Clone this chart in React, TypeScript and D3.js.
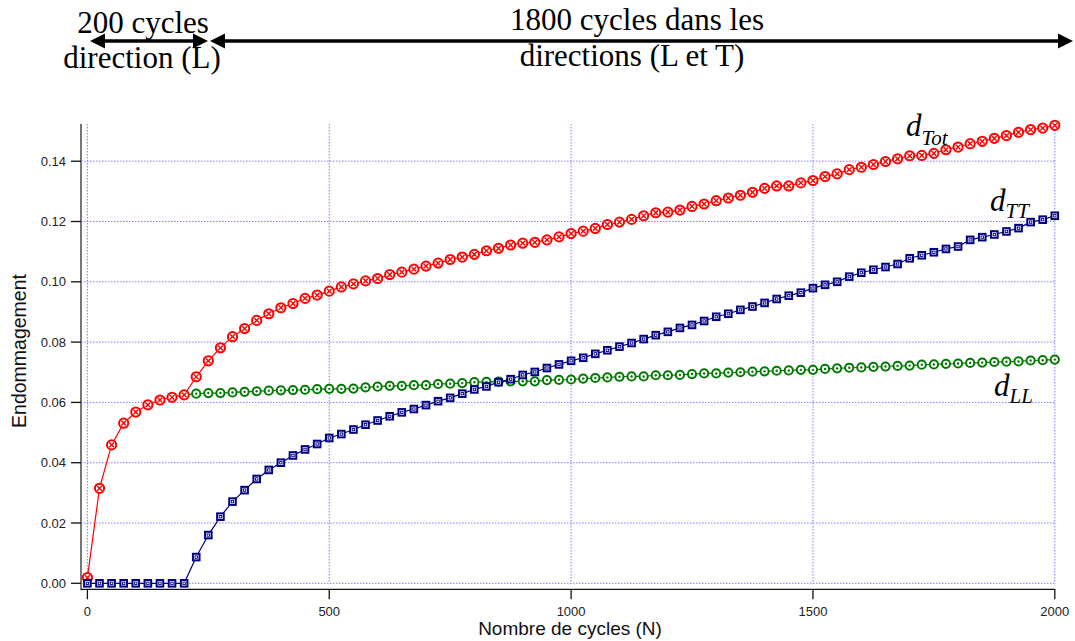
import React from "react";
import * as d3 from "d3";

const cycles = [
  0, 25, 50, 75, 100, 125, 150, 175, 200, 225, 250, 275, 300, 325, 350, 375, 400, 425, 450, 475,
  500, 525, 550, 575, 600, 625, 650, 675, 700, 725, 750, 775, 800, 825, 850, 875, 900, 925, 950, 975,
  1000, 1025, 1050, 1075, 1100, 1125, 1150, 1175, 1200, 1225, 1250, 1275, 1300, 1325, 1350, 1375, 1400, 1425, 1450, 1475,
  1500, 1525, 1550, 1575, 1600, 1625, 1650, 1675, 1700, 1725, 1750, 1775, 1800, 1825, 1850, 1875, 1900, 1925, 1950, 1975,
  2000,
];

const dTot = [
  0.0019, 0.0315, 0.0459, 0.0531, 0.0568, 0.0592, 0.0608, 0.0617, 0.0625, 0.0685, 0.0738, 0.0781, 0.0818, 0.0845, 0.0872, 0.0894, 0.0914, 0.0928, 0.0945, 0.0956,
  0.0969, 0.0983, 0.0993, 0.1003, 0.1011, 0.1024, 0.1032, 0.1042, 0.1052, 0.1062, 0.1074, 0.1082, 0.1091, 0.1103, 0.1111, 0.1122, 0.1128, 0.1131, 0.1139, 0.1149,
  0.1160, 0.1168, 0.1177, 0.1190, 0.1198, 0.1207, 0.1219, 0.1229, 0.1231, 0.1238, 0.1250, 0.1258, 0.1269, 0.1278, 0.1287, 0.1297, 0.1310, 0.1318, 0.1318, 0.1328,
  0.1336, 0.1349, 0.1358, 0.1372, 0.1380, 0.1389, 0.1399, 0.1408, 0.1418, 0.1419, 0.1426, 0.1438, 0.1447, 0.1458, 0.1466, 0.1476, 0.1485, 0.1496, 0.1505, 0.1510,
  0.1519,
];

const dTT = [
  0, 0, 0, 0, 0, 0, 0, 0, 0, 0.0087, 0.0160, 0.0221, 0.0271, 0.0309, 0.0346, 0.0376, 0.0400, 0.0424, 0.0444, 0.0462,
  0.0482, 0.0495, 0.0510, 0.0526, 0.0540, 0.0554, 0.0567, 0.0578, 0.0591, 0.0604, 0.0615, 0.0629, 0.0643, 0.0653, 0.0667, 0.0677, 0.0691, 0.0701, 0.0714, 0.0726,
  0.0738, 0.0748, 0.0761, 0.0773, 0.0785, 0.0797, 0.0810, 0.0823, 0.0834, 0.0847, 0.0857, 0.0870, 0.0884, 0.0894, 0.0907, 0.0918, 0.0930, 0.0943, 0.0954, 0.0964,
  0.0979, 0.0990, 0.1000, 0.1017, 0.1030, 0.1040, 0.1049, 0.1059, 0.1078, 0.1088, 0.1098, 0.1109, 0.1117, 0.1139, 0.1148, 0.1157, 0.1167, 0.1178, 0.1198, 0.1206,
  0.1219,
];

const dLL: (number | null)[] = [
  null, null, null, null, null, null, null, null, 0.0625, 0.0629, 0.0631, 0.0631, 0.0633, 0.0635, 0.0637, 0.0639, 0.0640, 0.0641, 0.0642, 0.0644,
  0.0645, 0.0645, 0.0646, 0.0650, 0.0652, 0.0655, 0.0655, 0.0657, 0.0657, 0.0661, 0.0662, 0.0664, 0.0667, 0.0668, 0.0669, 0.0670, 0.0670, 0.0670, 0.0674, 0.0675,
  0.0676, 0.0679, 0.0681, 0.0683, 0.0685, 0.0686, 0.0686, 0.0690, 0.0690, 0.0691, 0.0694, 0.0696, 0.0696, 0.0699, 0.0700, 0.0702, 0.0703, 0.0705, 0.0706, 0.0708,
  0.0708, 0.0711, 0.0713, 0.0715, 0.0716, 0.0718, 0.0719, 0.0721, 0.0722, 0.0725, 0.0726, 0.0728, 0.0729, 0.0731, 0.0732, 0.0734, 0.0735, 0.0736, 0.0739, 0.0740,
  0.0742,
];

const xTicks = [0, 500, 1000, 1500, 2000];
const yTicks = [0, 0.02, 0.04, 0.06, 0.08, 0.1, 0.12, 0.14];

const RED = "#ff0000";
const NAVY = "#000080";
const GREEN = "#007a00";
const GRID = "#7f7fff";

export default function App() {
  const x = d3.scaleLinear().domain([0, 2000]).range([87.4, 1054.8]);
  const y = d3.scaleLinear().domain([0, 0.14]).range([583.3, 161.2]);
  const plotTop = 124;
  const axisLeft = 81;
  const axisBottom = 589.3;

  const mk = (vals: (number | null)[]) =>
    cycles.map((c, i) => ({ c, v: vals[i] })).filter((p) => p.v !== null) as { c: number; v: number }[];
  const red = mk(dTot);
  const blue = mk(dTT);
  const green = mk(dLL);

  const line = d3
    .line<{ c: number; v: number }>()
    .x((d) => x(d.c))
    .y((d) => y(d.v));

  const fmt = d3.format(".2f");
  const serif = "'Liberation Serif', 'Times New Roman', serif";
  const sans = "'Liberation Sans', Arial, sans-serif";

  const arrowY = 41;
  const head = (tipX: number, dir: number) => {
    const L = 15;
    const H = 7.5;
    return `M${tipX},${arrowY} L${tipX - dir * L},${arrowY - H} L${tipX - dir * L},${arrowY + H} Z`;
  };

  return (
    <svg
      width={1075}
      height={641}
      style={{ position: "absolute", left: 0, top: 0, background: "#fff" }}
    >
      {/* grid */}
      {yTicks.map((t) => (
        <line
          key={"gy" + t}
          x1={axisLeft}
          x2={x(2000)}
          y1={y(t)}
          y2={y(t)}
          stroke={GRID}
          strokeWidth={1}
          strokeDasharray="1.5,1.5"
        />
      ))}
      {xTicks.map((t) => (
        <line
          key={"gx" + t}
          x1={x(t)}
          x2={x(t)}
          y1={plotTop}
          y2={y(0)}
          stroke={GRID}
          strokeWidth={1}
          strokeDasharray="1.5,1.5"
        />
      ))}

      {/* axes */}
      <line x1={axisLeft} x2={axisLeft} y1={plotTop} y2={axisBottom + 1} stroke="#777" strokeWidth={2} />
      <line x1={axisLeft} x2={x(2000) + 0.5} y1={axisBottom} y2={axisBottom} stroke="#111" strokeWidth={1.3} />
      {yTicks.map((t) => (
        <g key={"ty" + t}>
          <line x1={axisLeft - 10} x2={axisLeft} y1={y(t)} y2={y(t)} stroke="#111" strokeWidth={1.3} />
          <text
            x={66}
            y={y(t)}
            dy="0.35em"
            textAnchor="end"
            fontFamily={sans}
            fontSize={13}
            fill="#222"
          >
            {fmt(t)}
          </text>
        </g>
      ))}
      {xTicks.map((t) => (
        <g key={"tx" + t}>
          <line x1={x(t)} x2={x(t)} y1={axisBottom} y2={axisBottom + 10} stroke="#111" strokeWidth={1.3} />
          <text x={x(t)} y={616} textAnchor="middle" fontFamily={sans} fontSize={13} fill="#222">
            {t}
          </text>
        </g>
      ))}
      <text
        transform="translate(26,351) rotate(-90)"
        textAnchor="middle"
        fontFamily={sans}
        fontSize={19.5}
        fill="#111"
      >
        Endommagement
      </text>
      <text x={570} y={635} textAnchor="middle" fontFamily={sans} fontSize={19} fill="#111">
        Nombre de cycles (N)
      </text>

      {/* dLL series */}
      <path d={line(green) || ""} fill="none" stroke={GREEN} strokeWidth={1.2} />
      {green.map((p) => (
        <g key={"g" + p.c} transform={`translate(${x(p.c)},${y(p.v)})`}>
          <circle r={4.1} fill="#fff" stroke={GREEN} strokeWidth={2} />
          <circle r={1.2} fill={GREEN} />
        </g>
      ))}

      {/* dTot series */}
      <path d={line(red) || ""} fill="none" stroke={RED} strokeWidth={1.2} />
      {red.map((p) => (
        <g key={"r" + p.c} transform={`translate(${x(p.c)},${y(p.v)})`}>
          <circle r={4.6} fill="#fff" stroke={RED} strokeWidth={2} />
          <path d="M-2.4,-2.4 L2.4,2.4 M-2.4,2.4 L2.4,-2.4" stroke={RED} strokeWidth={1.4} />
        </g>
      ))}

      {/* dTT series */}
      <path d={line(blue) || ""} fill="none" stroke={NAVY} strokeWidth={1.2} />
      {blue.map((p) => (
        <g key={"b" + p.c} transform={`translate(${x(p.c)},${y(p.v)})`}>
          <rect x={-3.3} y={-3.3} width={6.6} height={6.6} fill="#fff" stroke={NAVY} strokeWidth={2} />
          <rect x={-1.2} y={-1.2} width={2.4} height={2.4} fill="#fff" stroke={NAVY} strokeWidth={0.9} />
        </g>
      ))}

      {/* series labels */}
      <text x={906} y={136} fontFamily={serif} fontStyle="italic" fontSize={31} fill="#000">
        d
        <tspan fontSize={21} dy={9}>Tot</tspan>
      </text>
      <text x={990} y={211} fontFamily={serif} fontStyle="italic" fontSize={31} fill="#000">
        d
        <tspan fontSize={21} dy={7}>TT</tspan>
      </text>
      <text x={994} y={396} fontFamily={serif} fontStyle="italic" fontSize={31} fill="#000">
        d
        <tspan fontSize={21} dy={7}>LL</tspan>
      </text>

      {/* top annotation arrows */}
      <line x1={100} x2={197} y1={arrowY} y2={arrowY} stroke="#000" strokeWidth={3.5} />
      <path d={head(90, -1)} fill="#000" />
      <path d={head(208, 1)} fill="#000" />
      <line x1={220} x2={1060} y1={arrowY} y2={arrowY} stroke="#000" strokeWidth={3.5} />
      <path d={head(210, -1)} fill="#000" />
      <path d={head(1073, 1)} fill="#000" />

      <text x={143} y={33} textAnchor="middle" fontFamily={serif} fontSize={31} fill="#000">
        200 cycles
      </text>
      <text x={142} y={68} textAnchor="middle" fontFamily={serif} fontSize={31} fill="#000">
        direction (L)
      </text>
      <text x={637} y={30} textAnchor="middle" fontFamily={serif} fontSize={31} fill="#000">
        1800 cycles dans les
      </text>
      <text x={632} y={66} textAnchor="middle" fontFamily={serif} fontSize={31} fill="#000">
        directions (L et T)
      </text>
    </svg>
  );
}
